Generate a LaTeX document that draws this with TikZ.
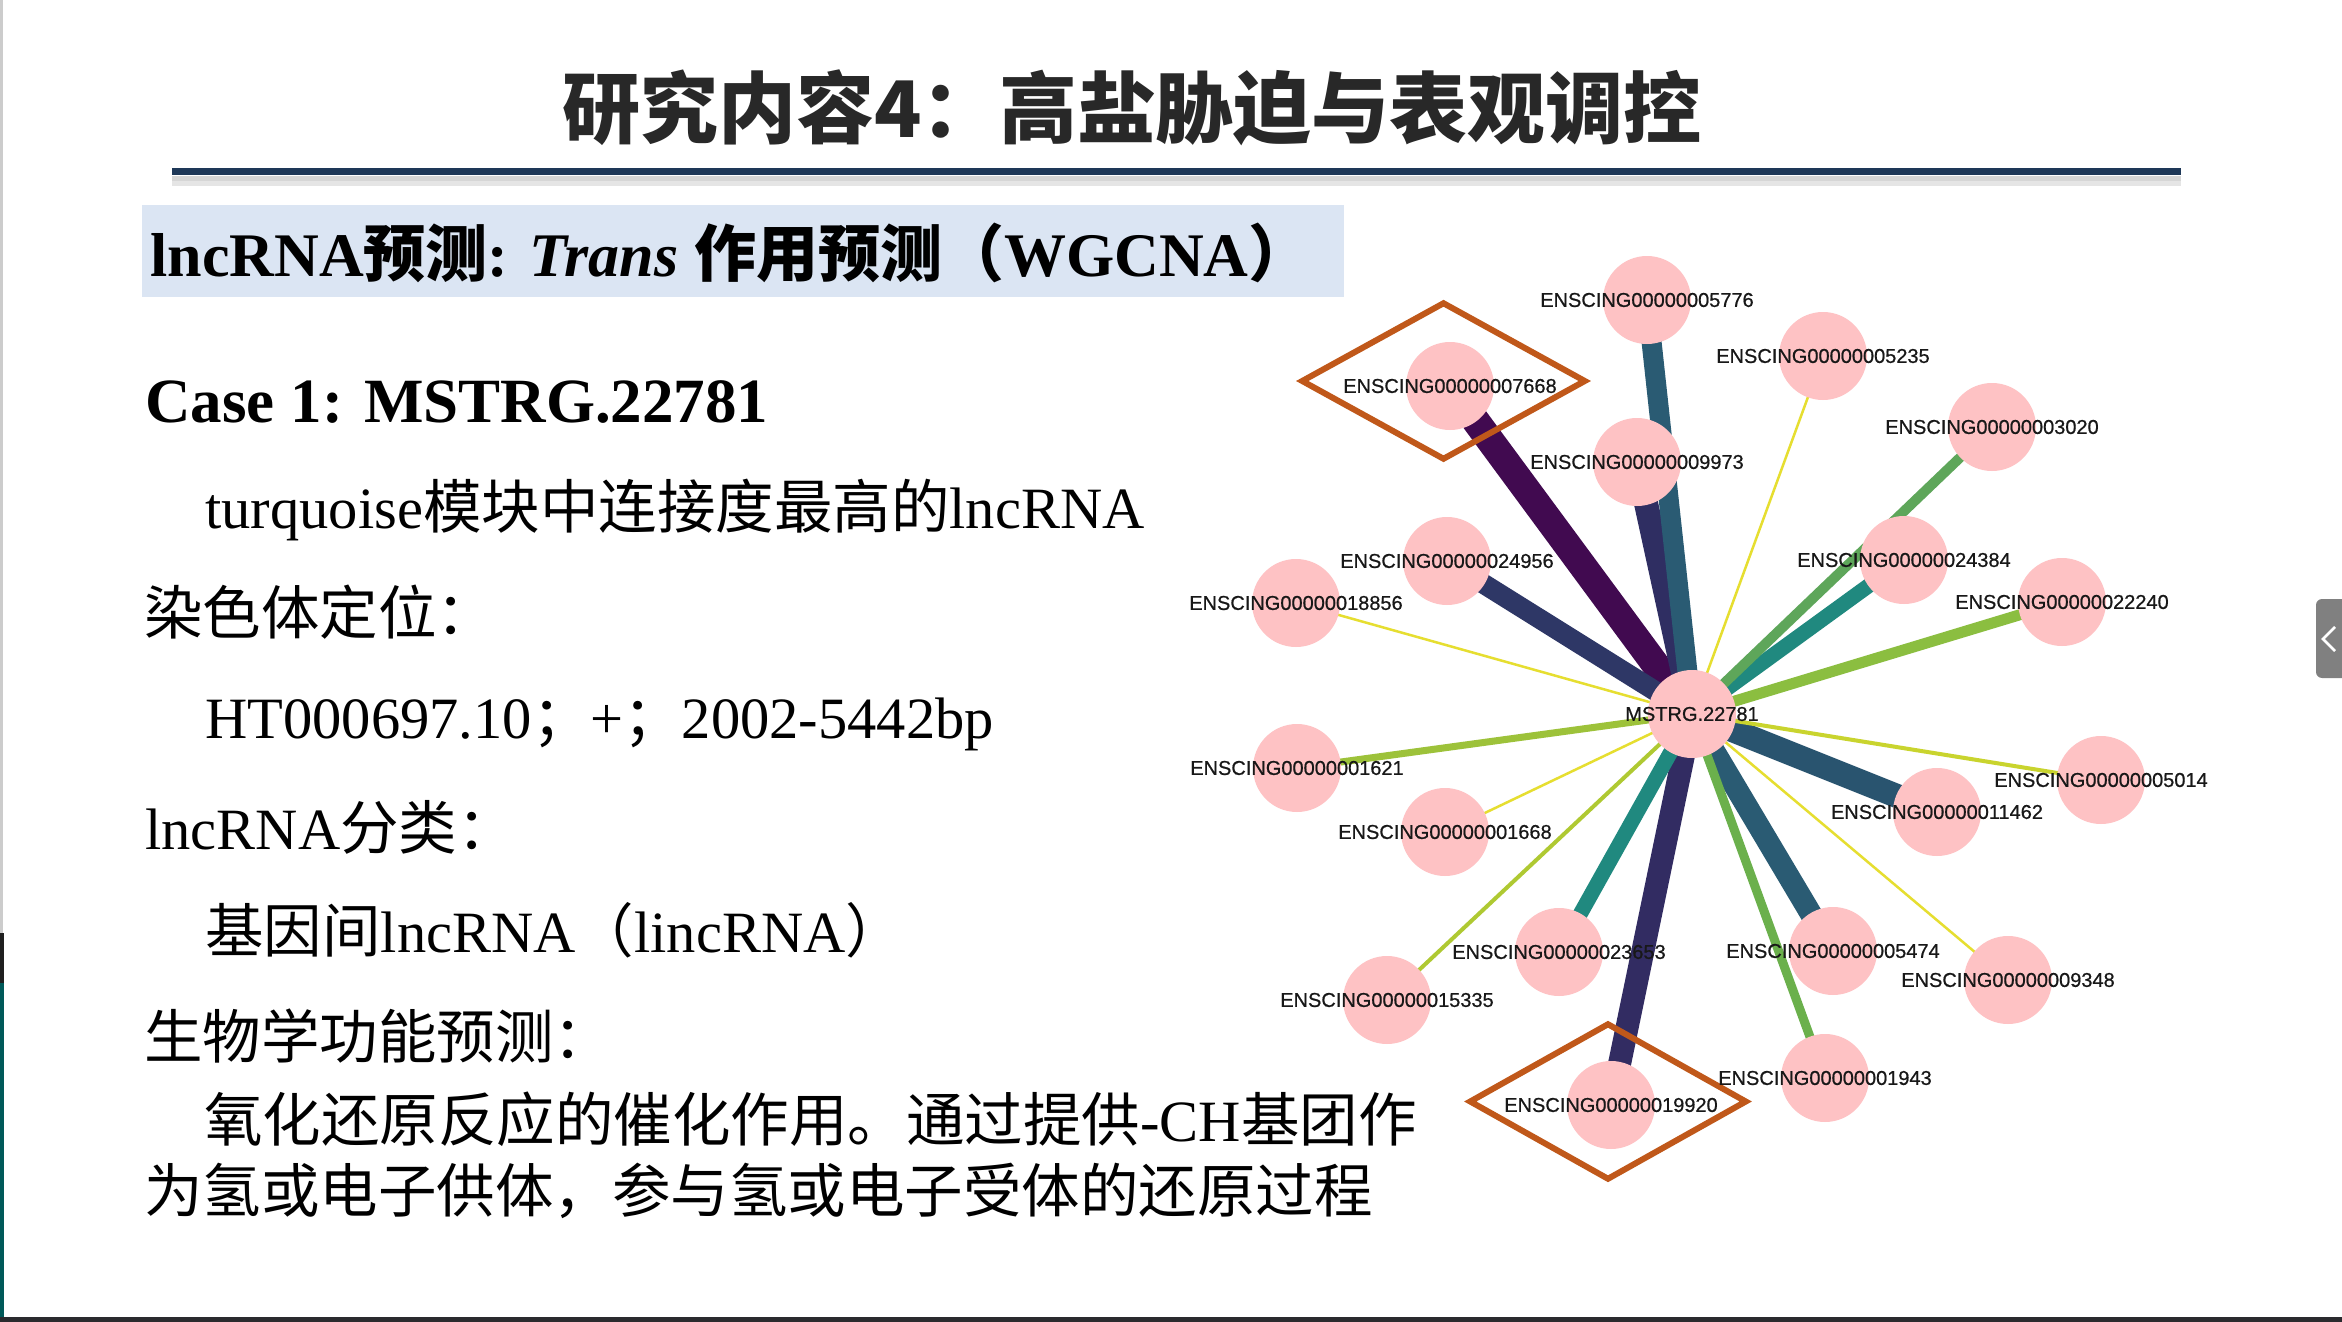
\documentclass[tikz,border=0pt]{standalone}
\usepackage{fontspec}
\setmainfont{Liberation Serif}
\newfontfamily\cjk{Noto Sans CJK SC}
\newfontfamily\labfont[FakeBold=0.7]{Liberation Sans}
\usetikzlibrary{shapes.geometric}

% palette
\definecolor{titleink}{RGB}{40,40,40}
\definecolor{rulenavy}{RGB}{30,56,88}
\definecolor{bandblue}{RGB}{219,229,243}
\definecolor{nodepink}{RGB}{254,194,196}
\definecolor{hlorange}{RGB}{192,88,26}
\definecolor{labelink}{RGB}{24,24,24}
\definecolor{tabgray}{RGB}{128,128,128}
\definecolor{framedark}{RGB}{42,42,46}
\definecolor{ePurple}{RGB}{65,10,80}
\definecolor{eIndigo}{RGB}{47,46,98}
\definecolor{eIndigoB}{RGB}{50,44,98}
\definecolor{eSlate}{RGB}{46,55,102}
\definecolor{eBlueTeal}{RGB}{42,91,115}
\definecolor{eDeepTeal}{RGB}{41,84,111}
\definecolor{eTeal}{RGB}{32,137,127}
\definecolor{eGreen}{RGB}{94,166,90}
\definecolor{eGreenB}{RGB}{107,176,76}
\definecolor{eLime}{RGB}{139,190,64}
\definecolor{eLimeB}{RGB}{157,194,58}
\definecolor{eLimeC}{RGB}{175,201,50}
\definecolor{eLimeD}{RGB}{201,212,46}
\definecolor{eYellow}{RGB}{230,222,48}

\newcommand\zhs[1]{{\cjk #1}}
\newcommand\zhb[1]{{\cjk\bfseries #1}}

\pgfdeclarelayer{bg}
\pgfdeclarelayer{edges}
\pgfsetlayers{bg,edges,main}

\tikzset{
  gene/.style={circle, fill=nodepink, draw=none, minimum size=44pt, inner sep=0pt},
  genelabel/.style={font=\labfont\fontsize{10}{12}\selectfont, text=labelink, inner sep=0pt},
  hlbox/.style={diamond, draw=hlorange, line width=3pt, inner sep=0pt},
  bodytext/.style={anchor=base west, inner sep=0pt, font=\fontsize{29.25}{35}\selectfont, text=black},
}

\begin{document}
\begin{tikzpicture}[x=0.5pt,y=-0.5pt]
\useasboundingbox (0,0) rectangle (2342,1322);

\begin{pgfonlayer}{bg}
  \fill[white] (0,0) rectangle (2342,1322);
  % window frame
  \fill[black!20] (0,0) rectangle (3,933);
  \fill[black!88] (0,933) rectangle (4,983);
  \fill[teal!70!black] (0,983) rectangle (4,1317);
  \fill[framedark] (0,1317) rectangle (2342,1322);
\end{pgfonlayer}

% heading
\node[font=\cjk\bfseries\fontsize{39}{44}\selectfont, text=titleink, inner sep=0pt] (title) at (1132,108) {研究内容4：高盐胁迫与表观调控};
\fill[black!10] (172,176) rectangle (2181,186);
\fill[black!16] (172,176) rectangle (2181,181);
\fill[rulenavy] (172,168) rectangle (2181,175);

% section band
\fill[bandblue] (142,205) rectangle (1344,297);
\node[anchor=base west, inner sep=0pt, font=\bfseries\fontsize{31}{36}\selectfont] (band) at (150,277)
  {lncRNA\zhb{预测}: \textit{Trans} \zhb{作用预测（}WGCNA\zhb{）}};

% left column
\node[bodytext, font=\bfseries\fontsize{31.5}{36}\selectfont] (case) at (145,422) {Case 1: MSTRG.22781};
\node[bodytext] (t1) at (205,528) {turquoise\zhs{模块中连接度最高的}lncRNA};
\node[bodytext] (t2) at (144,634) {\zhs{染色体定位：}};
\node[bodytext] (t3) at (205,738) {HT000697.10\zhs{；}+\zhs{；}2002-5442bp};
\node[bodytext] (t4) at (145,849) {lncRNA\zhs{分类：}};
\node[bodytext] (t5) at (205,952) {\zhs{基因间}lncRNA\zhs{（}lincRNA\zhs{）}};
\node[bodytext] (t6) at (144,1058) {\zhs{生物学功能预测：}};
\node[bodytext] (t7) at (204,1141) {\zhs{氧化还原反应的催化作用。通过提供}-CH\zhs{基团作}};
\node[bodytext] (t8) at (144,1212) {\zhs{为氢或电子供体，参与氢或电子受体的还原过程}};

% network: highlight diamonds
\node[hlbox, minimum width=142.5pt, minimum height=79pt] (d7668) at (1443.5,381) {};
\node[hlbox, minimum width=139pt, minimum height=78.5pt] (d19920) at (1608,1101.5) {};

% network: nodes
\node[gene] (hub) at (1692,714) {};
\foreach \n/\px/\py in {5776/1647/300, 7668/1450/386, 9973/1637/462, 5235/1823/356,
    3020/1992/427, 24956/1447/561, 18856/1296/603, 24384/1904/560, 22240/2062/602,
    1621/1297/768, 1668/1445/832, 5014/2101/780, 11462/1937/812, 23653/1559/952,
    5474/1833/951, 9348/2008/980, 15335/1387/1000, 19920/1611/1105, 1943/1825/1078}
  \node[gene] (g\n) at (\px,\py) {};

% network: labels
\node[genelabel] (lhub) at (hub.center) {MSTRG.22781};
\foreach \n/\t in {5776/ENSCING00000005776, 7668/ENSCING00000007668, 9973/ENSCING00000009973,
    5235/ENSCING00000005235, 3020/ENSCING00000003020, 24956/ENSCING00000024956,
    18856/ENSCING00000018856, 24384/ENSCING00000024384, 22240/ENSCING00000022240,
    1621/ENSCING00000001621, 1668/ENSCING00000001668, 5014/ENSCING00000005014,
    11462/ENSCING00000011462, 23653/ENSCING00000023653, 5474/ENSCING00000005474,
    9348/ENSCING00000009348, 15335/ENSCING00000015335, 19920/ENSCING00000019920,
    1943/ENSCING00000001943}
  \node[genelabel] (l\n) at (g\n.center) {\t};

% network: weighted edges
\begin{pgfonlayer}{edges}
\foreach \n/\w/\c in {7668/14/ePurple, 9973/12/eIndigo, 24956/10/eSlate, 5776/10/eBlueTeal,
    5474/11/eBlueTeal, 11462/12/eDeepTeal, 19920/11.5/eIndigoB, 24384/7.5/eTeal,
    23653/7.5/eTeal, 3020/5/eGreen, 1943/4.5/eGreenB, 22240/5.5/eLime, 1621/3.5/eLimeB,
    15335/2/eLimeC, 5014/2/eLimeD, 5235/1.25/eYellow, 18856/1.25/eYellow,
    1668/1.25/eYellow, 9348/1.25/eYellow}
  \draw[line width=\w pt, draw=\c] (hub.center) -- (g\n.center);
\end{pgfonlayer}

% side tab
\fill[tabgray, rounded corners=3pt] (2316,599) rectangle (2360,678);
\draw[white, line width=1.3pt] (2335,627) -- (2323,639) -- (2335,651);
\end{tikzpicture}
\end{document}
